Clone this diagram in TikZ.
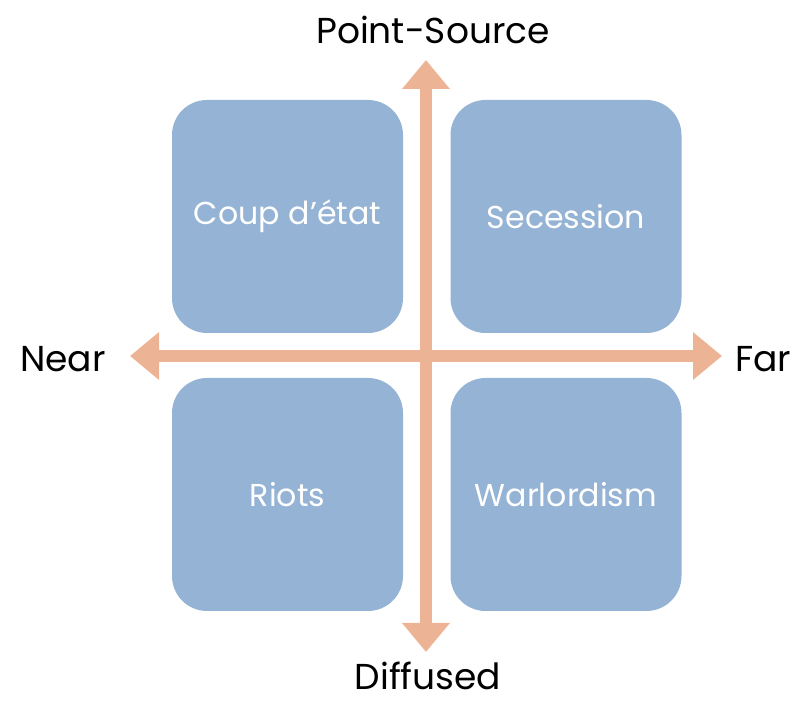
\documentclass[tikz,border=0pt]{standalone}
\usepackage{fontspec}
\setmainfont{Poppins}
\usetikzlibrary{arrows.meta}
\definecolor{boxblue}{RGB}{149,179,212}
\definecolor{axisorange}{RGB}{236,180,148}
\begin{document}
\begin{tikzpicture}[
    quad/.style={fill=boxblue, rounded corners=0.7cm, minimum width=4.62cm, minimum height=4.66cm, text=white, font=\fontsize{18}{21}\selectfont},
    axislabel/.style={inner sep=1pt, font=\fontsize{20.5}{24}\selectfont},
    axis/.style={axisorange, line width=0.24cm, {Triangle[width=0.92cm,length=0.58cm]}-{Triangle[width=0.92cm,length=0.58cm]}}
]
    \useasboundingbox (0,0) rectangle (15.92,14.08);

    \node[quad] (coup) at (5.75,9.75) {Coup d’état};
    \node[quad] (secession) at (11.32,9.75) {Secession};
    \node[quad] (riots) at (5.75,4.19) {Riots};
    \node[quad] (warlord) at (11.32,4.19) {Warlordism};

    % axis ends
    \coordinate (top) at (8.52,12.88);
    \coordinate (bottom) at (8.52,1.04);
    \coordinate (left) at (2.6,6.96);
    \coordinate (right) at (14.44,6.96);
    \draw[axis] (bottom) -- (top);
    \draw[axis] (left) -- (right);

    \node[axislabel] (point) at (8.66,13.48) {Point-Source};
    \node[axislabel] (diffused) at (8.56,0.56) {Diffused};
    \node[axislabel] (near) at (1.26,6.9) {Near};
    \node[axislabel] (far) at (15.26,6.9) {Far};
\end{tikzpicture}
\end{document}
